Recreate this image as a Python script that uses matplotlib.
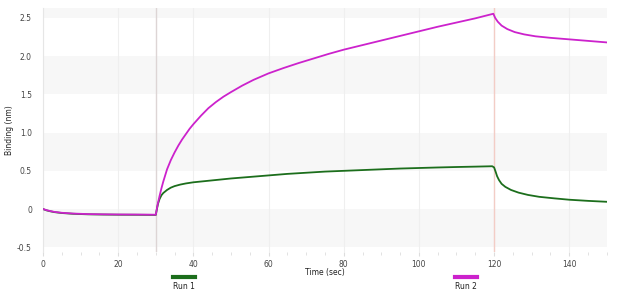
import numpy as np
import matplotlib.pyplot as plt
import matplotlib.ticker as ticker
from matplotlib.lines import Line2D

# ---- data ----
base_t = [0, 1, 2, 3, 5, 8, 12, 16, 20, 25, 30]
base_run1 = [0.0, -0.018, -0.03, -0.04, -0.052, -0.062, -0.069, -0.072, -0.074, -0.075, -0.077]
base_run2 = [0.0, -0.015, -0.027, -0.037, -0.049, -0.059, -0.066, -0.069, -0.071, -0.072, -0.074]

assoc_t1 = [30, 30.3, 30.6, 31, 31.5, 32, 33, 34, 35, 36.5, 38, 40, 43, 46, 50, 55, 60,
            65, 70, 75, 80, 85, 90, 95, 100, 105, 110, 115, 119.5]
assoc_run1 = [-0.077, 0.0, 0.07, 0.13, 0.18, 0.21, 0.25, 0.28, 0.30, 0.32, 0.335, 0.35, 0.365,
              0.38, 0.40, 0.42, 0.44, 0.46, 0.475, 0.49, 0.50, 0.51, 0.52, 0.53, 0.537, 0.544,
              0.55, 0.555, 0.56]

assoc_t2 = [30, 30.5, 31, 31.5, 32, 33, 34, 35, 36, 37, 38, 39, 40, 42, 44, 46, 48, 50, 53,
            56, 60, 64, 68, 72, 76, 80, 85, 90, 95, 100, 105, 110, 115, 119.8]
assoc_run2 = [-0.074, 0.06, 0.17, 0.27, 0.36, 0.52, 0.64, 0.74, 0.83, 0.91, 0.98, 1.05, 1.11,
              1.22, 1.32, 1.40, 1.47, 1.53, 1.615, 1.69, 1.775, 1.845, 1.91, 1.97, 2.03, 2.085,
              2.145, 2.205, 2.265, 2.325, 2.385, 2.44, 2.495, 2.555]

dissoc_t1 = [119.5, 120, 120.4, 120.8, 121.3, 122, 123, 124.5, 126.5, 129, 132, 136, 140, 145, 150]
dissoc_run1 = [0.56, 0.545, 0.49, 0.43, 0.38, 0.33, 0.29, 0.25, 0.215, 0.185, 0.16, 0.14,
               0.122, 0.107, 0.095]

dissoc_t2 = [119.8, 120.3, 121, 122, 123.5, 125.5, 128, 131, 135, 140, 145, 150]
dissoc_run2 = [2.555, 2.50, 2.45, 2.40, 2.355, 2.315, 2.285, 2.26, 2.24, 2.22, 2.20, 2.18]

run_labels = ['Run 1', 'Run 2']
run_colors = ['#1c6e1c', '#cc22cc']
step_times = [30, 120]
band_edges = [(-0.5, 0.0), (0.5, 1.0), (1.5, 2.0), (2.5, 3.0)]

fig = plt.figure(figsize=(6.4, 2.97), dpi=100)
ax = fig.add_axes([0.0672, 0.152, 0.881, 0.821])

# ---- background bands ----
for lo, hi in band_edges:
    ax.axhspan(lo, hi, color='#f7f7f7', zorder=0, lw=0)

# ---- step markers ----
ax.axvline(step_times[0], color='#ddd5d5', lw=1.0, zorder=1)
ax.axvline(step_times[1], color='#f3cdc6', lw=1.0, zorder=1)

# ---- curves ----
t1 = np.concatenate([base_t, assoc_t1, dissoc_t1])
y1 = np.concatenate([base_run1, assoc_run1, dissoc_run1])
t2 = np.concatenate([base_t, assoc_t2, dissoc_t2])
y2 = np.concatenate([base_run2, assoc_run2, dissoc_run2])
ax.plot(t1, y1, color=run_colors[0], lw=1.3, zorder=3, solid_joinstyle='round')
ax.plot(t2, y2, color=run_colors[1], lw=1.3, zorder=4, solid_joinstyle='round')

# ---- axes ----
ax.set_xlim(0, 150)
ax.set_ylim(-0.56, 2.63)
ax.xaxis.set_major_locator(ticker.MultipleLocator(20))
ax.xaxis.set_minor_locator(ticker.MultipleLocator(5))
ax.set_yticks([-0.5, 0, 0.5, 1.0, 1.5, 2.0, 2.5])
ax.set_yticklabels(['-0.5', '0', '0.5', '1.0', '1.5', '2.0', '2.5'])
ax.grid(True, axis='x', which='major', color='#efefef', lw=0.8, zorder=0)
ax.set_axisbelow(True)

for side in ['top', 'right', 'bottom']:
    ax.spines[side].set_visible(False)
ax.spines['left'].set_color('#e6e6e6')
ax.spines['left'].set_linewidth(0.8)

ax.tick_params(axis='x', which='major', length=3, color='#dddddd', labelsize=5.5,
               labelcolor='#444444', pad=3)
ax.tick_params(axis='x', which='minor', length=2, color='#dddddd')
ax.tick_params(axis='y', length=0, labelsize=5.5, labelcolor='#444444', pad=8)

ax.set_xlabel('Time (sec)', fontsize=5.5, color='#222222', labelpad=-1)
ax.set_ylabel('Binding (nm)', fontsize=5.5, color='#222222', labelpad=2)

# ---- legend below the plot ----
for x_c, label, clr in zip([0.2875, 0.728], run_labels, run_colors):
    fig.add_artist(Line2D([x_c - 0.017, x_c + 0.017], [0.066, 0.066], color=clr, lw=3,
                          transform=fig.transFigure))
    fig.text(x_c, 0.035, label, ha='center', va='center', fontsize=5.5, color='#222222')

fig.savefig('out.png', dpi=100, facecolor='white')
